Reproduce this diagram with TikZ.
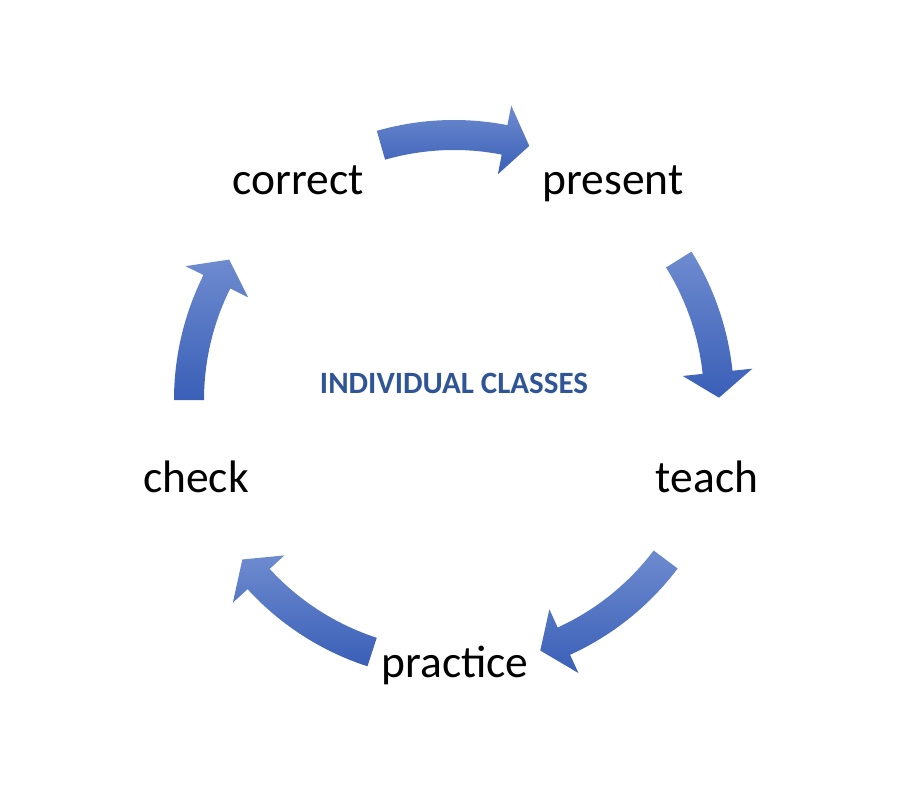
\documentclass[tikz,border=0pt]{standalone}
\usepackage{fontspec}
\setmainfont{Carlito}
\usetikzlibrary{positioning}
\definecolor{ArrowLight}{RGB}{110,139,207}
\definecolor{ArrowDark}{RGB}{58,95,183}
\definecolor{TitleBlue}{RGB}{47,85,151}

\begin{document}
\begin{tikzpicture}[x=1pt,y=1pt,
  stage/.style={anchor=base,inner sep=0pt,font=\fontsize{45.5}{50}\selectfont},
  arrowbody/.style={top color=ArrowLight,bottom color=ArrowDark,draw=none}]
  \useasboundingbox (0,0) rectangle (916,-800);
  \coordinate (hub) at (454,-400);
  % stages round the cycle
  \node[stage] (correct) at (298,-194) {correct};
  \node[stage] (present) at (613,-194) {present};
  \node[stage] (teach) at (707,-492) {teach};
  \node[stage] (practice) at (455,-677) {practice};
  \node[stage] (check) at (196,-492) {check};
  \node[anchor=base,inner sep=0pt,text=TitleBlue,font=\bfseries\fontsize{31}{34}\selectfont] (title) at (454,-393) {INDIVIDUAL CLASSES};
  % curved block arrows, tail angle / tip angle
  \begin{scope}[shift={(hub)}]
    \foreach \a/\b in {106/73.5, 32/0.5, -37/-71, -108/-143, 180/148}{
      \pgfmathsetmacro\h{\b+5.5}
      \path[arrowbody] (\a:280) arc[start angle=\a,end angle=\h,radius=280]
        -- (\h:300) -- (\b:265) -- (\h:230) -- (\h:250)
        arc[start angle=\h,end angle=\a,radius=250] -- cycle;
    }
  \end{scope}
\end{tikzpicture}
\end{document}
